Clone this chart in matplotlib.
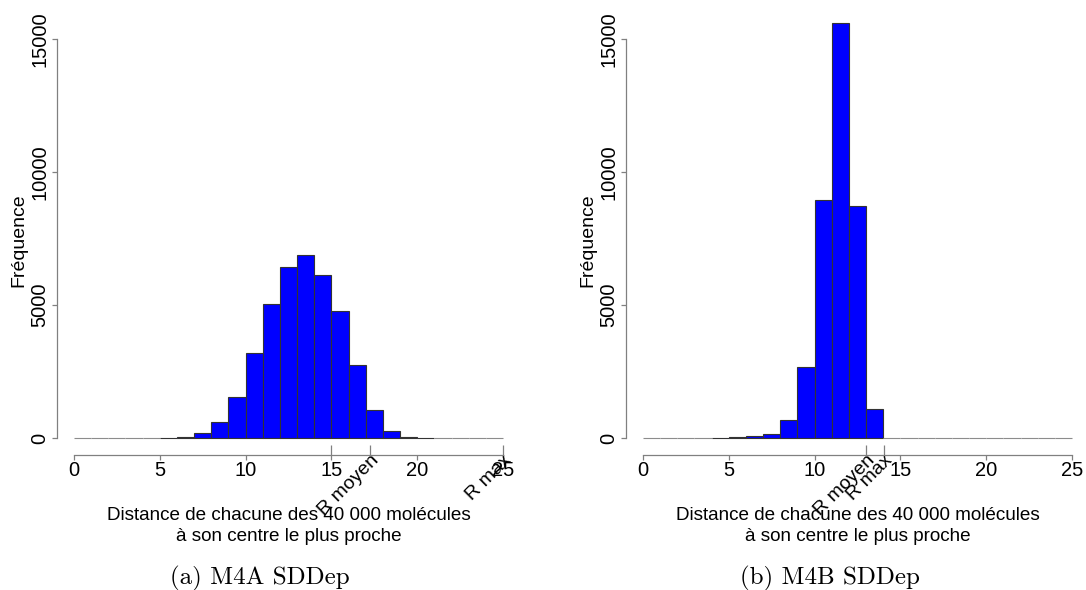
import numpy as np
import matplotlib
matplotlib.use("Agg")
import matplotlib.pyplot as plt

plt.rcParams["font.family"] = ["Liberation Sans", "DejaVu Sans"]

# bin edges (width 1) and counts
bin_edges = list(range(0, 26))
counts_a = [0, 0, 0, 0, 0, 10, 40, 200, 600, 1530, 3200, 5035, 6420, 6880, 6140,
            4780, 2760, 1065, 250, 45, 10, 0, 0, 0, 0]
counts_b = [0, 0, 0, 0, 10, 20, 60, 165, 690, 2665, 8960, 15620, 8740, 1100, 0,
            0, 0, 0, 0, 0, 0, 0, 0, 0, 0]

# marked radii on the x axis
r_pos_a = [15, 17.25, 25]
r_lab_a = ["", "R moyen", "R max"]
r_pos_b = [13.0, 14.03]
r_lab_b = ["R moyen", "R max"]

x_ticks = [0, 5, 10, 15, 20, 25]
y_ticks = [0, 5000, 10000, 15000]
xlabel = "Distance de chacune des 40 000 molécules\nà son centre le plus proche"
ylabel = "Fréquence"
captions = ["(a) M4A SDDep", "(b) M4B SDDep"]

W, H = 1086, 590
fig = plt.figure(figsize=(W / 100, H / 100), dpi=100)

axis_grey = "#808080"
px = 72 / 100  # points per pixel


def panel(left_px, counts, r_pos, r_lab, caption, cap_x):
    ax = fig.add_axes([left_px / W, (H - 438) / H, 429 / W, 418 / H])
    # empty bins show up as a light grey line along the baseline
    edges = ["#8c8c8c" if c == 0 else "#333333" for c in counts]
    ax.bar(bin_edges[:-1], counts, width=1, align="edge", color="#0000ff",
           edgecolor=edges, linewidth=0.8, clip_on=False)
    ax.set_xlim(0, 25)
    ax.set_ylim(0, 418 / 0.0266)

    for s in ["top", "right"]:
        ax.spines[s].set_visible(False)
    for s in ["left", "bottom"]:
        ax.spines[s].set_position(("outward", 17 * px))
        ax.spines[s].set_color(axis_grey)
        ax.spines[s].set_linewidth(0.9)
    ax.spines["left"].set_bounds(0, 15000)
    ax.spines["bottom"].set_bounds(0, 25)

    ax.xaxis.remove_overlapping_locs = False
    ax.set_xticks(x_ticks)
    ax.set_yticks(y_ticks)
    ax.tick_params(axis="both", which="major", direction="out", length=5 * px,
                   width=0.9, color=axis_grey, labelsize=14.5)
    ax.tick_params(axis="x", which="major", pad=1)
    ax.tick_params(axis="y", which="major", pad=2)
    plt.setp(ax.get_yticklabels(), rotation=90, va="center")

    ax.set_xticks(r_pos, minor=True)
    ax.set_xticklabels(r_lab, minor=True)
    ax.tick_params(axis="x", which="minor", direction="in", length=10 * px,
                   width=0.9, color=axis_grey, labelsize=14, pad=-2.5)
    plt.setp(ax.get_xticklabels(minor=True), rotation=45, ha="right",
             rotation_mode="anchor")

    ax.set_xlabel(xlabel, fontsize=13.6, linespacing=1.3)
    ax.xaxis.set_label_coords(0.5, (438 - 507) / 418)
    ax.set_ylabel(ylabel, fontsize=14)
    ax.yaxis.set_label_coords((27 - 74) / 429, (438 - 240) / 418)

    fig.text(cap_x / W, 1 - 578 / H, caption, ha="center", va="center",
             fontsize=18, family="cmr10")
    return ax


panel(74, counts_a, r_pos_a, r_lab_a, captions[0], 260)
panel(643, counts_b, r_pos_b, r_lab_b, captions[1], 830)

fig.savefig("out.png", dpi=100)
